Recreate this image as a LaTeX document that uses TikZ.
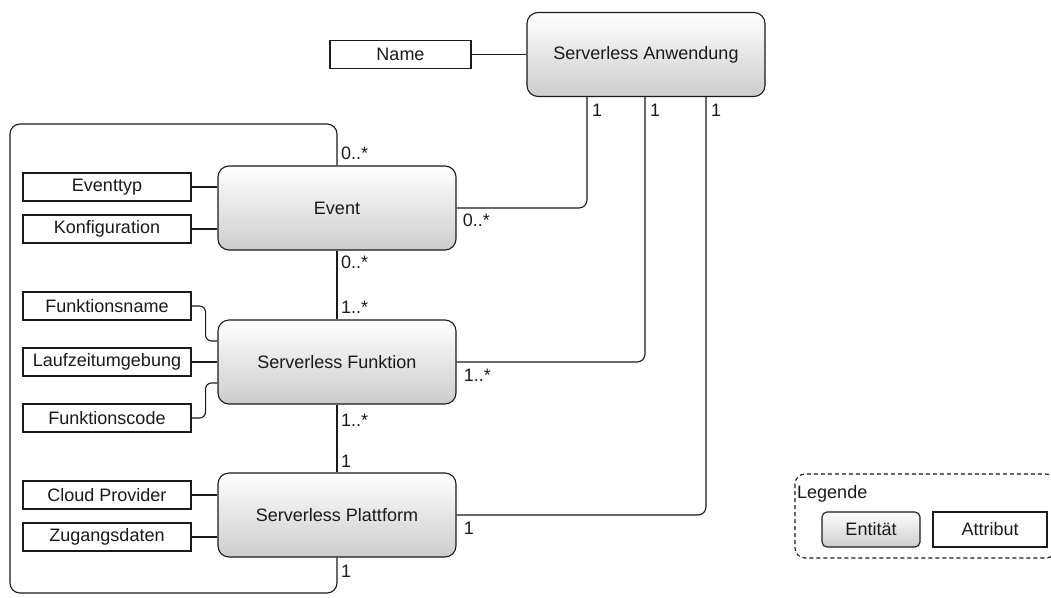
\documentclass[tikz,border=0pt]{standalone}
\usepackage{fontspec}
\setmainfont{Liberation Sans}
\usetikzlibrary{calc}
\definecolor{ink}{HTML}{1A1A1A}
\newcommand\diagfont{\fontsize{18}{21}\selectfont}
\tikzset{
  entity/.style={draw=ink, line width=1.1pt, rounded corners=11pt,
    top color=white, bottom color=black!20, text=ink,
    minimum width=238pt, minimum height=84pt, inner sep=0pt, font=\diagfont},
  attr/.style={draw=ink, line width=1.1pt, fill=white, text=ink,
    minimum width=168pt, minimum height=28pt, inner sep=0pt, font=\diagfont},
  mult/.style={anchor=west, inner sep=0pt, text=ink, font=\diagfont},
  link/.style={draw=ink, line width=1.1pt, rounded corners=8pt},
}
\begin{document}
\begin{tikzpicture}[x=1pt,y=-1pt]
\useasboundingbox (0,0) rectangle (1051,597);

% entities
\node[entity] (anw) at (646,54.5) {Serverless Anwendung};
\node[entity] (ev)  at (337,208) {Event};
\node[entity] (fn)  at (337,362) {Serverless Funktion};
\node[entity] (pf)  at (337,515) {Serverless Plattform};

% attributes
\node[attr, minimum width=141pt] (name) at (400.5,54.5) {Name};
\node[attr] (evtyp) at (107,187) {Eventtyp};
\node[attr] (konf)  at (107,229) {Konfiguration};
\node[attr] (fname) at (107,306) {Funktionsname};
\node[attr] (lzu)   at (107,362) {Laufzeitumgebung};
\node[attr] (fcode) at (107,418) {Funktionscode};
\node[attr] (cloud) at (107,495) {Cloud Provider};
\node[attr] (zug)   at (107,537) {Zugangsdaten};

% attribute links
\draw[link] (name.east) -- (name.east -| anw.west);
\draw[link] (evtyp.east) -- (evtyp.east -| ev.west);
\draw[link] (konf.east) -- (konf.east -| ev.west);
\draw[link, rounded corners=6pt] (fname.east) -- ++(14,0) |- ([yshift=21pt]fn.west);
\draw[link] (lzu.east) -- (fn.west);
\draw[link, rounded corners=6pt] (fcode.east) -- ++(14,0) |- ([yshift=-21pt]fn.west);
\draw[link] (cloud.east) -- (cloud.east -| pf.west);
\draw[link] (zug.east) -- (zug.east -| pf.west);

% relations to the application
\coordinate (a1) at ([xshift=-59pt]anw.south);
\coordinate (a2) at ([xshift=-1pt]anw.south);
\coordinate (a3) at ([xshift=60pt]anw.south);
\draw[link] (ev.east) -| (a1);
\draw[link] (fn.east) -| (a2);
\draw[link] (pf.east) -| (a3);
\node[mult] (m1) at ([xshift=5pt,yshift=-13pt]a1) {1};
\node[mult] (m2) at ([xshift=5pt,yshift=-13pt]a2) {1};
\node[mult] (m3) at ([xshift=5pt,yshift=-13pt]a3) {1};
\node[mult] (m4) at ([xshift=6pt,yshift=-12pt]ev.east) {0..*};
\node[mult] (m5) at ([xshift=7pt,yshift=-13pt]fn.east) {1..*};
\node[mult] (m6) at ([xshift=7pt,yshift=-13pt]pf.east) {1};

% chain of entities
\draw[link] (ev.south) -- (fn.north);
\draw[link] (fn.south) -- (pf.north);
\node[mult] (m7)  at ([xshift=4pt,yshift=-12pt]ev.south) {0..*};
\node[mult] (m8)  at ([xshift=4pt,yshift=12pt]fn.north) {1..*};
\node[mult] (m9)  at ([xshift=4pt,yshift=-16pt]fn.south) {1..*};
\node[mult] (m10) at ([xshift=4pt,yshift=11pt]pf.north) {1};

% loop from platform back to event
\coordinate (lt) at (10,124);
\coordinate (lb) at (10,593);
\draw[link, rounded corners=10pt] (ev.north) |- (lt) -- (lb) -| (pf.south);
\node[mult] (m11) at ([xshift=4pt,yshift=12pt]ev.north) {0..*};
\node[mult] (m12) at ([xshift=4pt,yshift=-14pt]pf.south) {1};

% legend
\draw[draw=ink, line width=1.1pt, dash pattern=on 4pt off 3pt, rounded corners=10pt]
  (795,474) rectangle (1056,558);
\node[mult] (legt) at (797,494) {Legende};
\node[entity, minimum width=98pt, minimum height=35pt, rounded corners=5pt] (lent) at (871,529.5) {Entität};
\node[attr, minimum width=114pt, minimum height=35pt] (lattr) at (990,529.5) {Attribut};
\end{tikzpicture}
\end{document}
